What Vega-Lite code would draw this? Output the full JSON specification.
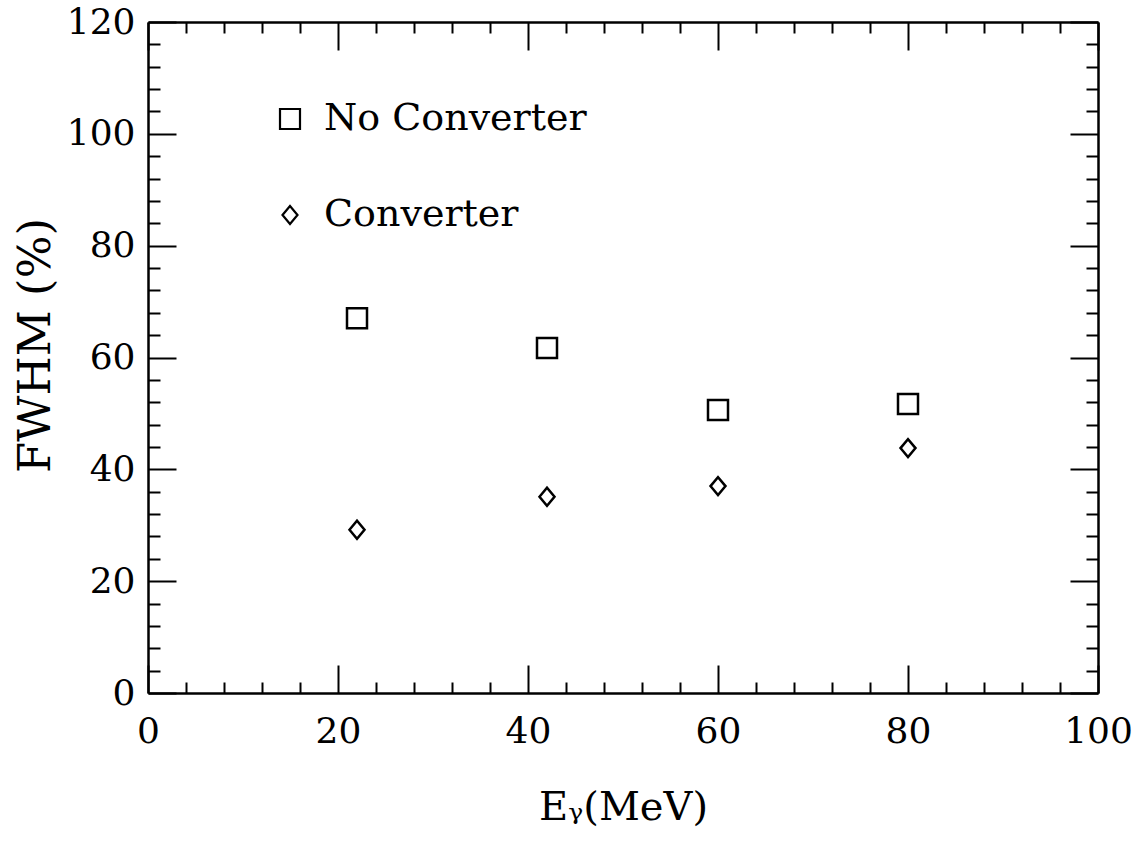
{
  "$schema": "https://vega.github.io/schema/vega-lite/v6.json",
  "width": 950,
  "height": 671,
  "autosize": {"type": "none"},
  "padding": {"left": 148, "top": 22, "right": 44, "bottom": 154},
  "background": "white",
  "config": {
    "view": {"stroke": null},
    "font": "DejaVu Serif",
    "axis": {
      "grid": false,
      "domainColor": "black",
      "domainWidth": 2.5,
      "tickColor": "black",
      "tickWidth": 2,
      "labelColor": "black",
      "titleColor": "black",
      "labelFont": "DejaVu Serif",
      "titleFont": "DejaVu Serif",
      "titleFontWeight": "normal",
      "labelFlush": false,
      "labelOverlap": false,
      "labelBound": false
    }
  },
  "data": {
    "values": [
      {"series": "No Converter", "E": 22, "FWHM": 67.0},
      {"series": "No Converter", "E": 42, "FWHM": 61.7},
      {"series": "No Converter", "E": 60, "FWHM": 50.6},
      {"series": "No Converter", "E": 80, "FWHM": 51.7},
      {"series": "Converter", "E": 22, "FWHM": 29.2},
      {"series": "Converter", "E": 42, "FWHM": 35.1},
      {"series": "Converter", "E": 60, "FWHM": 37.0},
      {"series": "Converter", "E": 80, "FWHM": 43.8}
    ]
  },
  "layer": [
    {
      "mark": {"type": "point", "filled": false, "color": "black", "strokeWidth": 2.5, "size": 400, "opacity": 1},
      "encoding": {
        "x": {
          "field": "E", "type": "quantitative",
          "scale": {"domain": [0, 100], "nice": false, "zero": false},
          "axis": {
            "orient": "bottom",
            "values": [0,4,8,12,16,20,24,28,32,36,40,44,48,52,56,60,64,68,72,76,80,84,88,92,96,100],
            "labelExpr": "datum.value % 20 === 0 ? datum.label : ''",
            "tickSize": {"condition": {"test": "datum.value % 20 === 0", "value": -28}, "value": -11},
            "labelFontSize": 36,
            "labelPadding": 49,
            "title": "Eᵧ(MeV)",
            "titleFontSize": 40,
            "titlePadding": 21
          }
        },
        "y": {
          "field": "FWHM", "type": "quantitative",
          "scale": {"domain": [0, 120], "nice": false, "zero": false},
          "axis": {
            "orient": "left",
            "values": [0,4,8,12,16,20,24,28,32,36,40,44,48,52,56,60,64,68,72,76,80,84,88,92,96,100,104,108,112,116,120],
            "labelExpr": "datum.value % 20 === 0 ? datum.label : ''",
            "tickSize": {"condition": {"test": "datum.value % 20 === 0", "value": -28}, "value": -12},
            "labelFontSize": 36,
            "labelPadding": 41,
            "title": "FWHM  (%)",
            "titleFontSize": 45,
            "titlePadding": 8,
            "titleY": 323
          }
        },
        "shape": {
          "field": "series", "type": "nominal",
          "scale": {"domain": ["No Converter", "Converter"], "range": ["square", "M-0.75,0L0,-0.9L0.75,0L0,0.9Z"]},
          "legend": {
            "orient": "none",
            "legendX": 123,
            "legendY": 78,
            "title": null,
            "padding": 0,
            "symbolSize": 400,
            "symbolStrokeWidth": 2.2,
            "symbolStrokeColor": "black",
            "symbolFillColor": "transparent",
            "labelFont": "DejaVu Serif",
            "labelFontSize": 38,
            "labelColor": "black",
            "labelOffset": 15,
            "rowPadding": 58,
            "labelLimit": 400
          }
        }
      }
    },
    {
      "mark": {"type": "point", "opacity": 0},
      "encoding": {
        "x": {
          "field": "E", "type": "quantitative",
          "axis": {
            "orient": "top",
            "values": [0,4,8,12,16,20,24,28,32,36,40,44,48,52,56,60,64,68,72,76,80,84,88,92,96,100],
            "labels": false,
            "title": null,
            "tickSize": {"condition": {"test": "datum.value % 20 === 0", "value": -28}, "value": -11}
          }
        },
        "y": {
          "field": "FWHM", "type": "quantitative",
          "axis": {
            "orient": "right",
            "values": [0,4,8,12,16,20,24,28,32,36,40,44,48,52,56,60,64,68,72,76,80,84,88,92,96,100,104,108,112,116,120],
            "labels": false,
            "title": null,
            "tickSize": {"condition": {"test": "datum.value % 20 === 0", "value": -28}, "value": -12}
          }
        }
      }
    }
  ],
  "resolve": {"axis": {"x": "independent", "y": "independent"}}
}
